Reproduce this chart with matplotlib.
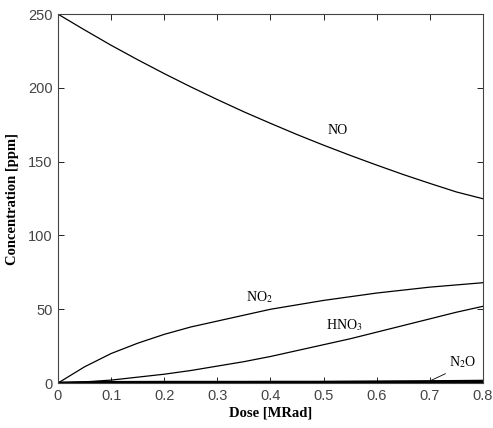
import matplotlib
matplotlib.use("Agg")
import matplotlib.pyplot as plt

plt.rcParams["mathtext.fontset"] = "stix"

dose = [0.0, 0.05, 0.1, 0.15, 0.2, 0.25, 0.3, 0.35, 0.4, 0.45, 0.5, 0.55, 0.6, 0.65, 0.7, 0.75, 0.8]
no = [250, 239.3, 228.9, 219.1, 209.7, 200.7, 192.1, 183.8, 176.0, 168.4, 161.2, 154.3, 147.7, 141.3, 135.3, 129.5, 124.9]
no2 = [0, 11, 20, 27, 33, 38, 42, 46, 50, 53, 56, 58.5, 61, 63, 65, 66.5, 68]
hno3 = [0, 0.8, 2, 4, 6, 8.5, 11.5, 14.5, 18, 22, 26, 30, 34.5, 39, 43.5, 48, 52]
n2o = [0, 0.1, 0.2, 0.3, 0.4, 0.5, 0.6, 0.7, 0.8, 0.9, 1.0, 1.1, 1.25, 1.4, 1.55, 1.7, 1.85]
other = [0, 0.3, 0.4, 0.45, 0.5, 0.5, 0.5, 0.5, 0.55, 0.55, 0.55, 0.6, 0.6, 0.6, 0.6, 0.6, 0.6]

serif = ["Liberation Serif", "DejaVu Serif"]
sans = ["Liberation Sans", "DejaVu Sans"]

fig = plt.figure(figsize=(4.93, 4.28), dpi=100)
ax = fig.add_axes([0.1176, 0.105, 0.862, 0.862])

ax.plot(dose, no, color="black", linewidth=0.9)
ax.plot(dose, no2, color="black", linewidth=0.9)
ax.plot(dose, hno3, color="black", linewidth=0.9)
ax.plot(dose, other, color="black", linewidth=2.2)
ax.plot(dose, n2o, color="black", linewidth=0.9)

ax.set_xlim(0, 0.8)
ax.set_ylim(0, 250)
ax.set_xticks([0, 0.1, 0.2, 0.3, 0.4, 0.5, 0.6, 0.7, 0.8])
ax.set_xticklabels(["0", "0.1", "0.2", "0.3", "0.4", "0.5", "0.6", "0.7", "0.8"])
ax.set_yticks([0, 50, 100, 150, 200, 250])
ax.tick_params(direction="in", top=True, right=True, length=4, width=0.6,
               labelsize=10.5, labelcolor="#444444", pad=4)
for lab in ax.get_xticklabels() + ax.get_yticklabels():
    lab.set_family(sans)
for s in ax.spines.values():
    s.set_linewidth(0.8)
    s.set_color("#444444")

ax.set_xlabel("Dose [MRad]", family=serif, fontweight="bold", fontsize=10.5, labelpad=3)
ax.set_ylabel("Concentration [ppm]", family=serif, fontweight="bold", fontsize=10.5, labelpad=6)

ax.text(0.527, 171, "NO", family=serif, fontsize=10, ha="center", va="center")
ax.text(0.379, 58, "NO$_2$", family=serif, fontsize=10, ha="center", va="center")
ax.text(0.539, 39, "HNO$_3$", family=serif, fontsize=10, ha="center", va="center")
ax.annotate("N$_2$O", xy=(0.70, 1.4), xytext=(0.761, 14), family=serif, fontsize=10,
            ha="center", va="center",
            arrowprops=dict(arrowstyle="-", color="black", linewidth=0.6,
                            relpos=(0.15, 0.0), shrinkA=1, shrinkB=0))

fig.savefig("out.png", dpi=100)
